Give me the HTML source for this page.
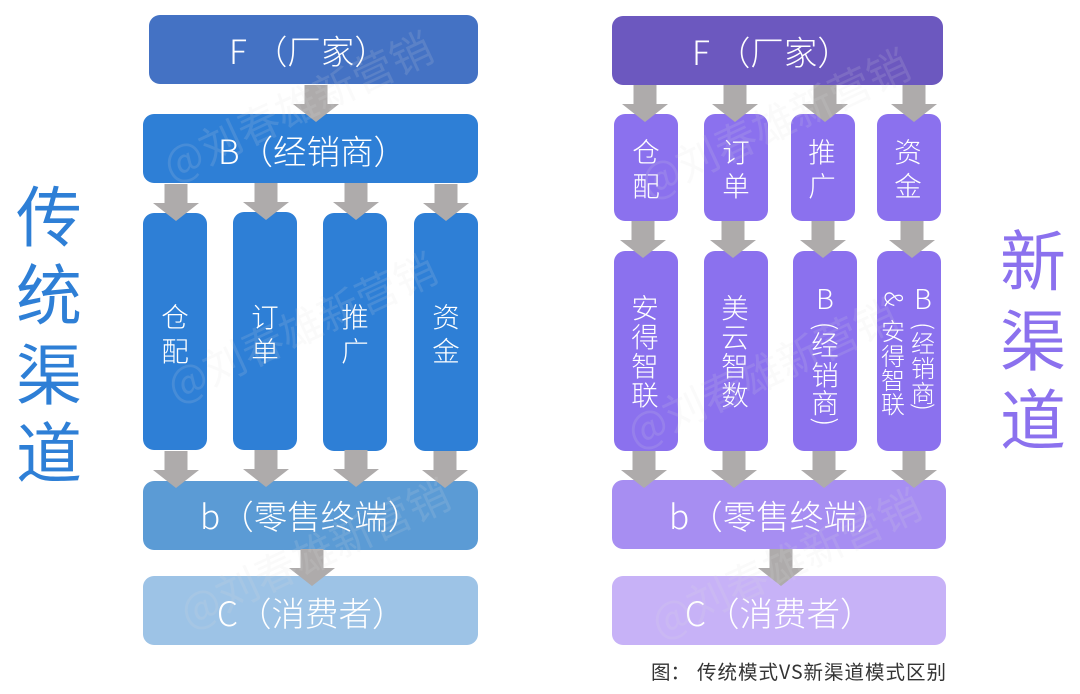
<!DOCTYPE html>
<html lang="zh">
<head>
<meta charset="utf-8">
<title>传统渠道与新渠道</title>
<style>
html,body{margin:0;padding:0;background:#fff;width:1080px;height:694px;overflow:hidden}
svg{display:block}
text{font-family:"Noto Sans CJK SC","Liberation Sans",sans-serif;font-weight:300}
.w text{fill:#fff}
.m{font-size:33.500px}
.c{text-anchor:middle;font-size:27.500px}
.s{text-anchor:middle;font-size:24px}
.t{text-anchor:middle;font-size:66px;font-weight:400}
.wm{font-size:42px;fill:#ddd;opacity:.14;font-weight:400}
</style>
</head>
<body>
<svg width="1080" height="694" viewBox="0 0 1080 694" xmlns="http://www.w3.org/2000/svg">
<defs>
<path id="a" d="M-11.500 0H11.500V19H23L0 37L-23 19H-11.500Z" fill="#aeabab"/>
</defs>

<!-- left boxes -->
<rect x="149" y="15" width="329" height="69" rx="11" fill="#4472c4"/>
<rect x="143" y="114" width="335" height="69" rx="11" fill="#2e7fd6"/>
<g fill="#2e7fd6">
<rect x="143" y="213" width="64" height="237" rx="11"/>
<rect x="233" y="212" width="64" height="238" rx="11"/>
<rect x="323" y="213" width="64" height="238" rx="11"/>
<rect x="414" y="213" width="64" height="238" rx="11"/>
</g>
<rect x="143" y="481" width="335" height="69" rx="11" fill="#5b9bd5"/>
<rect x="143" y="576" width="335" height="69" rx="11" fill="#9dc3e6"/>

<!-- right boxes -->
<rect x="612" y="16" width="331" height="69" rx="11" fill="#6c58bf"/>
<g fill="#8b71ee">
<rect x="614" y="114" width="64" height="107" rx="11"/>
<rect x="704" y="114" width="64" height="107" rx="11"/>
<rect x="791" y="114" width="64" height="107" rx="11"/>
<rect x="877" y="114" width="64" height="107" rx="11"/>
<rect x="614" y="251" width="64" height="200" rx="11"/>
<rect x="704" y="251" width="64" height="200" rx="11"/>
<rect x="793" y="251" width="64" height="200" rx="11"/>
<rect x="877" y="251" width="64" height="200" rx="11"/>
</g>
<rect x="612" y="480" width="334" height="69" rx="11" fill="#a78ef2"/>
<rect x="612" y="576" width="334" height="69" rx="11" fill="#c7b2f7"/>

<!-- left arrows -->
<use href="#a" x="316" y="85"/>
<use href="#a" x="176" y="184"/>
<use href="#a" x="266" y="183"/>
<use href="#a" x="356" y="183"/>
<use href="#a" x="446" y="184"/>
<use href="#a" x="176" y="451"/>
<use href="#a" x="266" y="450"/>
<use href="#a" x="356" y="450"/>
<use href="#a" x="445" y="451"/>
<use href="#a" x="312" y="549"/>

<!-- right arrows -->
<use href="#a" x="645" y="85"/>
<use href="#a" x="735" y="85"/>
<use href="#a" x="825" y="85"/>
<use href="#a" x="914" y="85"/>
<use href="#a" x="643" y="221"/>
<use href="#a" x="733" y="221"/>
<use href="#a" x="823" y="221"/>
<use href="#a" x="912" y="221"/>
<use href="#a" x="644" y="451"/>
<use href="#a" x="734" y="451"/>
<use href="#a" x="824" y="451"/>
<use href="#a" x="914" y="451"/>
<use href="#a" x="781" y="549"/>

<!-- box labels -->
<g class="w">
<text class="m" x="229" y="64">F<tspan dx="7">（厂家）</tspan></text>
<text class="m" x="218" y="164">B（经销商）</text>
<text class="m" x="200" y="529">b（零售终端）</text>
<text class="m" x="217" y="626">C（消费者）</text>
<text class="m" x="692" y="65">F<tspan dx="7">（厂家）</tspan></text>
<text class="m" x="669" y="529">b（零售终端）</text>
<text class="m" x="685" y="626">C（消费者）</text>

<text class="c" x="175" y="327">仓</text><text class="c" x="175" y="361">配</text>
<text class="c" x="265" y="327">订</text><text class="c" x="265" y="361">单</text>
<text class="c" x="355" y="327">推</text><text class="c" x="355" y="361">广</text>
<text class="c" x="446" y="327">资</text><text class="c" x="446" y="361">金</text>

<text class="c" x="646" y="162">仓</text><text class="c" x="646" y="196">配</text>
<text class="c" x="736" y="162">订</text><text class="c" x="736" y="196">单</text>
<text class="c" x="822" y="162">推</text><text class="c" x="822" y="196">广</text>
<text class="c" x="908" y="162">资</text><text class="c" x="908" y="196">金</text>

<text class="c" x="645" y="318">安</text><text class="c" x="645" y="347">得</text>
<text class="c" x="645" y="376">智</text><text class="c" x="645" y="405">联</text>
<text class="c" x="735" y="318">美</text><text class="c" x="735" y="347">云</text>
<text class="c" x="735" y="376">智</text><text class="c" x="735" y="405">数</text>

<text class="c" x="825" y="309">B</text>
<text class="c" transform="translate(825,326) rotate(90)" x="0" y="9">(</text>
<text class="c" x="825" y="355">经</text>
<text class="c" x="825" y="385">销</text>
<text class="c" x="825" y="413">商</text>
<text class="c" transform="translate(825,422) rotate(90)" x="0" y="9">)</text>

<text class="c" x="923" y="309">B</text>
<text class="s" transform="translate(923,326) rotate(90)" x="0" y="8">(</text>
<text class="s" x="923" y="352">经</text>
<text class="s" x="923" y="377">销</text>
<text class="s" x="923" y="402">商</text>
<text class="s" transform="translate(923,407) rotate(90)" x="0" y="8">)</text>

<text class="s" transform="translate(893,299) rotate(90)" x="0" y="8">&amp;</text>
<text class="s" x="893" y="340">安</text>
<text class="s" x="893" y="365">得</text>
<text class="s" x="893" y="389">智</text>
<text class="s" x="893" y="413">联</text>
</g>

<!-- side titles -->
<g fill="#2e7fd6">
<text class="t" x="49" y="241">传</text>
<text class="t" x="49" y="319">统</text>
<text class="t" x="49" y="399">渠</text>
<text class="t" x="49" y="477">道</text>
</g>
<g fill="#8b71ee">
<text class="t" x="1033" y="285">新</text>
<text class="t" x="1033" y="365">渠</text>
<text class="t" x="1033" y="444">道</text>
</g>

<!-- caption -->
<text x="651" y="679" font-size="19.500" fill="#333" style="font-weight:400">图：</text>
<text x="697" y="679" font-size="19.500" fill="#333" style="font-weight:400" textLength="249">传统模式VS新渠道模式区别</text>

<!-- watermarks -->
<text class="wm" transform="translate(172,182) rotate(-25)">@刘春雄新营销</text>
<text class="wm" transform="translate(176,403) rotate(-25)">@刘春雄新营销</text>
<text class="wm" transform="translate(189,629) rotate(-25)">@刘春雄新营销</text>
<text class="wm" transform="translate(649,199) rotate(-25)">@刘春雄新营销</text>
<text class="wm" transform="translate(636,449) rotate(-25)">@刘春雄新营销</text>
<text class="wm" transform="translate(660,639) rotate(-25)">@刘春雄新营销</text>
</svg>
</body>
</html>
